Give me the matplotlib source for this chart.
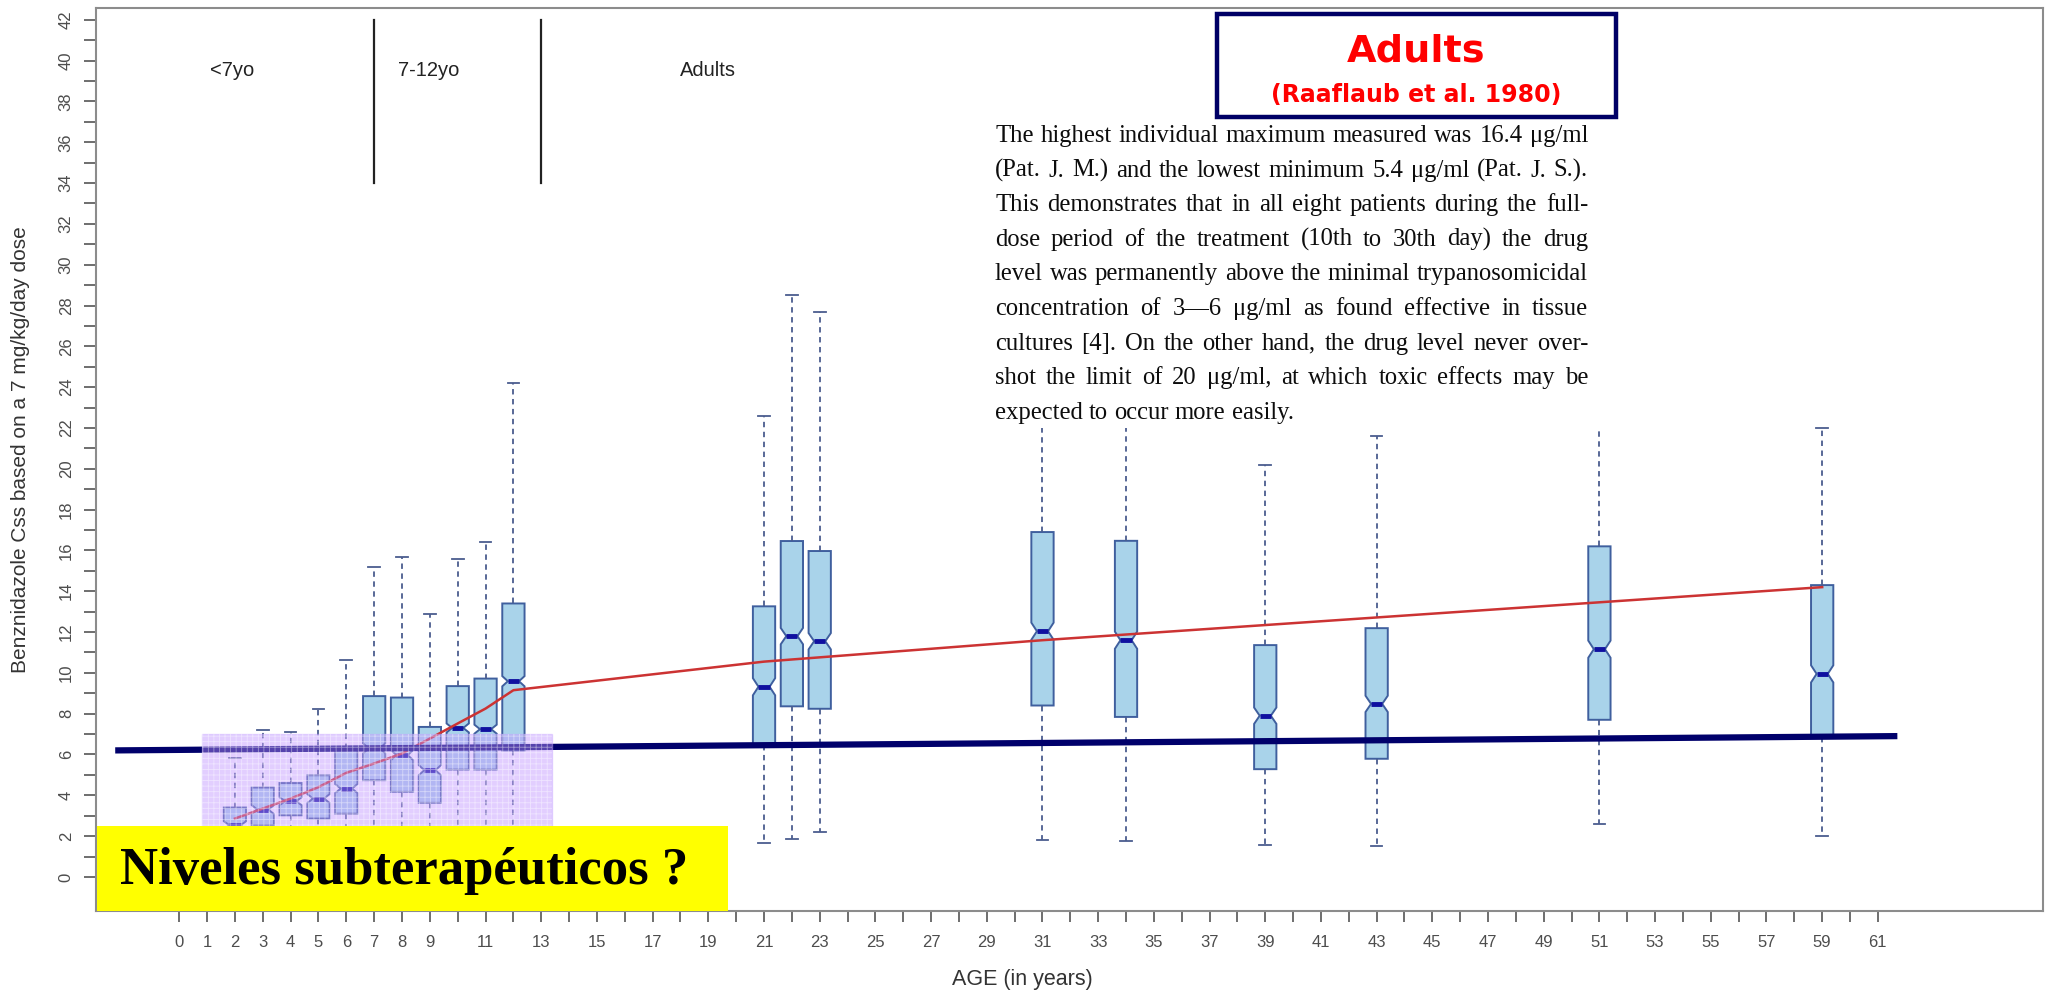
import matplotlib
matplotlib.use('Agg')
import matplotlib.pyplot as plt
from matplotlib.patches import Rectangle

# ---------------- data ----------------
ages = [2, 3, 4, 5, 6, 7, 8, 9, 10, 11, 12, 21, 22, 23, 31, 34, 39, 43, 51, 59]
whis_lo = [0.8, 1.2, 1.5, 1.2, 1.5, 1.5, 1.0, 1.0, 1.0, 1.0, 1.0, 1.65, 1.85, 2.2, 1.8, 1.76, 1.57, 1.5, 2.6, 2.0]
q1 = [1.9, 2.53, 3.02, 2.86, 3.1, 4.74, 4.17, 3.63, 5.26, 5.26, 6.2, 6.45, 8.36, 8.24, 8.4, 7.84, 5.28, 5.79, 7.7, 6.85]
median = [2.53, 3.3, 3.71, 3.84, 4.33, 6.3, 5.97, 5.23, 7.3, 7.24, 9.59, 9.32, 11.8, 11.55, 12.04, 11.6, 7.9, 8.48, 11.16, 9.95]
q3 = [3.4, 4.38, 4.6, 4.98, 6.29, 8.86, 8.79, 7.35, 9.35, 9.72, 13.4, 13.26, 16.46, 15.97, 16.9, 16.47, 11.36, 12.19, 16.2, 14.3]
whis_hi = [5.85, 7.22, 7.08, 8.25, 10.62, 15.17, 15.69, 12.88, 15.56, 16.42, 24.2, 22.6, 28.5, 27.67, 25.5, 26.0, 20.2, 21.6, 24.5, 22.0]
notch_half = [0.2, 0.22, 0.2, 0.22, 0.22, 0.25, 0.25, 0.25, 0.22, 0.22, 0.25, 0.42, 0.4, 0.4, 0.42, 0.42, 0.4, 0.4, 0.42, 0.42]

trend_age = [2, 3, 4, 5, 6, 7, 8, 9, 10, 11, 12, 21, 31, 59]
trend_val = [2.86, 3.35, 3.84, 4.4, 5.1, 5.56, 6.05, 6.78, 7.52, 8.25, 9.15, 10.55, 11.6, 14.2]

threshold_x = [-2.3, 61.7]
threshold_y = [6.2, 6.9]

group_names = ['<7yo', '7-12yo', 'Adults']
group_label_x = [1.9, 8.95, 19.0]
group_bounds = [7, 13]

x_ticks = list(range(0, 62))
x_labeled = [0, 1, 2, 3, 4, 5, 6, 7, 8, 9, 11, 13, 15, 17, 19, 21, 23, 25, 27, 29, 31,
             33, 35, 37, 39, 41, 43, 45, 47, 49, 51, 53, 55, 57, 59, 61]
y_ticks = list(range(0, 43))
y_labeled = [0, 2, 4, 6, 8, 10, 12, 14, 16, 18, 20, 22, 24, 26, 28, 30, 32, 34, 36, 38, 40, 42]

para_lines = [
    "The highest individual maximum measured was 16.4 \u03bcg/ml",
    "(Pat. J. M.) and the lowest minimum 5.4 \u03bcg/ml (Pat. J. S.).",
    "This demonstrates that in all eight patients during the full-",
    "dose period of the treatment (10th to 30th day) the drug",
    "level was permanently above the minimal trypanosomicidal",
    "concentration of 3\u20146 \u03bcg/ml as found effective in tissue",
    "cultures [4]. On the other hand, the drug level never over-",
    "shot the limit of 20 \u03bcg/ml, at which toxic effects may be",
    "expected to occur more easily.",
]

# ---------------- figure ----------------
W, H = 2047, 994
fig = plt.figure(figsize=(W / 100, H / 100), dpi=100)
def fx(px): return px / W
def fy(py): return 1 - py / H

ax = fig.add_axes([fx(96), fy(911), fx(2043) - fx(96), fy(8) - fy(911)])
ax.set_xlim(-2.99, 66.93)
ax.set_ylim(-1.67, 42.58)

stats = []
for a, lo, b1, m, b3, hi, nh in zip(ages, whis_lo, q1, median, q3, whis_hi, notch_half):
    stats.append(dict(med=m, q1=b1, q3=b3, whislo=lo, whishi=hi,
                      cilo=m - nh, cihi=m + nh, fliers=[]))

ax.bxp(stats, positions=ages, widths=0.8, shownotches=True, patch_artist=True,
       showfliers=False, capwidths=0.42,
       boxprops=dict(facecolor='#a9d3ea', edgecolor='#3f5f9e', linewidth=1.4),
       whiskerprops=dict(color='#4b5d8f', linewidth=1.3, linestyle=(0, (3, 2.5))),
       capprops=dict(color='#4b5d8f', linewidth=1.3),
       medianprops=dict(color='#1010a0', linewidth=3.5),
       manage_ticks=False, zorder=2)

ax.plot(trend_age, trend_val, color='#cc3333', lw=1.8, zorder=3)
ax.plot(threshold_x, threshold_y, color='#00006b', lw=4.5, solid_capstyle='butt', zorder=4)

# lavender highlight region
ax.add_patch(Rectangle((0.8, -1.67), 12.6, 7.0 + 1.67, facecolor='#bf94ff', alpha=0.45,
                       edgecolor='#c9a8ff', lw=1.0, zorder=5))
plt.rcParams['hatch.linewidth'] = 0.6
ax.add_patch(Rectangle((0.8, -1.67), 12.6, 7.0 + 1.67, facecolor='none', hatch='+++',
                       edgecolor=(1, 1, 1, 0.45), lw=0, zorder=5))

# group separators & labels
for gx in group_bounds:
    ax.plot([gx, gx], [34.0, 42.0], color='#222222', lw=1.6, zorder=3)
for name, gx in zip(group_names, group_label_x):
    ax.text(gx, 39.5, name, ha='center', va='center', fontsize=14.5,
            family='Liberation Sans', color='#222222')

# axes styling
for s in ax.spines.values():
    s.set_color('#8c8c8c')
    s.set_linewidth(1.5)
ax.set_xticks(x_ticks)
ax.set_xticklabels([str(t) if t in x_labeled else '' for t in x_ticks])
ax.set_yticks(y_ticks)
ax.set_yticklabels([str(t) if t in y_labeled else '' for t in y_ticks])
ax.tick_params(axis='x', length=8, width=1.2, color='#555555', pad=9,
               labelsize=12, labelcolor='#4d4d4d')
ax.tick_params(axis='y', length=9, width=1.2, color='#555555', pad=7,
               labelsize=12, labelcolor='#4d4d4d', labelrotation=90)
for lab in ax.get_xticklabels() + ax.get_yticklabels():
    lab.set_family('Liberation Sans')
for lab in ax.get_yticklabels():
    lab.set_va('center')

fig.text(fx(1022), fy(979), 'AGE (in years)', ha='center', va='center', fontsize=15.5,
         family='Liberation Sans', color='#333333')
fig.text(fx(21), fy(450), 'Benznidazole Css based on a 7 mg/kg/day dose', ha='center',
         va='center', rotation=90, fontsize=15, family='Liberation Sans', color='#333333')

# yellow "Niveles" box
ax.add_patch(Rectangle((0.0007, 0.0), 0.324, 0.094, transform=ax.transAxes,
                       facecolor='#ffff00', edgecolor='none', zorder=8, clip_on=False))
ax.text(0.0125, 0.044, 'Niveles subterapéuticos ?', transform=ax.transAxes, ha='left',
        va='center', fontsize=38, fontweight='bold', family='Liberation Serif',
        color='black', zorder=9)

# Adults / reference box
fig.patches.append(Rectangle((fx(1217), fy(117)), fx(1616) - fx(1217), fy(14) - fy(117),
                             transform=fig.transFigure, facecolor='white',
                             edgecolor='#000066', lw=3.2, zorder=10))
fig.text(fx(1416), fy(52), 'Adults', ha='center', va='center', fontsize=27.5,
         fontweight='bold', family='DejaVu Sans', color='#ff0000', zorder=11)
fig.text(fx(1416), fy(95), '(Raaflaub et al. 1980)', ha='center', va='center', fontsize=17,
         fontweight='bold', family='DejaVu Sans', color='#ff0000', zorder=11)

# paragraph (justified)
fig.patches.append(Rectangle((fx(986), fy(428)), fx(1618) - fx(986), fy(120) - fy(428),
                             transform=fig.transFigure, facecolor='white',
                             edgecolor='none', zorder=10))
renderer = fig.canvas.get_renderer()
para_family = 'Liberation Serif'

def measure(s, size):
    t = fig.text(0, 0, s, fontsize=size, family=para_family)
    w = t.get_window_extent(renderer).width
    t.remove()
    return w

left_px, right_px = 995, 1588
base0, pitch = 142, 34.6
ref = 20.0
nat = max(measure(l, ref) for l in para_lines[:-1])
psize = ref * (right_px - left_px) / nat * 0.995
space_nat = measure('a a', psize) - measure('aa', psize)
for i, line in enumerate(para_lines):
    words = line.split(' ')
    widths = [measure(w_, psize) for w_ in words]
    if i < len(para_lines) - 1 and len(words) > 1:
        gap = (right_px - left_px - sum(widths)) / (len(words) - 1)
    else:
        gap = space_nat
    x = left_px
    yb = base0 + i * pitch
    for w_, wd in zip(words, widths):
        fig.text(fx(x), fy(yb), w_, ha='left', va='baseline', fontsize=psize,
                 family=para_family, color='#0d0d0d', zorder=11)
        x += wd + gap

fig.savefig('out.png', dpi=100)
